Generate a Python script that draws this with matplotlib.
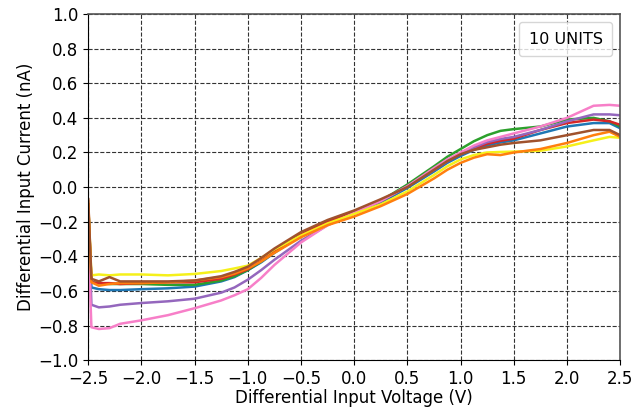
import matplotlib
matplotlib.use("Agg")
import matplotlib.pyplot as plt
from matplotlib.lines import Line2D

# differential input voltage sweep (V)
volts = [-2.5, -2.47, -2.4, -2.3, -2.2, -2.0, -1.75, -1.5, -1.25, -1.125, -1.0, -0.875, -0.75, -0.5,
         -0.25, 0.0, 0.25, 0.5, 0.75, 0.875, 1.0, 1.125, 1.25, 1.375, 1.5, 1.75, 2.0, 2.25, 2.4, 2.5]

# differential input current per unit (nA)
unit_blue = [-0.12, -0.58, -0.59, -0.595, -0.595, -0.59, -0.585, -0.575, -0.545, -0.52, -0.48, -0.435,
             -0.38, -0.28, -0.21, -0.15, -0.09, -0.005, 0.09, 0.14, 0.18, 0.215, 0.24, 0.258, 0.27,
             0.31, 0.35, 0.37, 0.37, 0.34]
unit_orange = [-0.08, -0.55, -0.57, -0.56, -0.555, -0.555, -0.55, -0.54, -0.52, -0.5, -0.47, -0.43,
               -0.38, -0.29, -0.22, -0.17, -0.11, -0.04, 0.05, 0.1, 0.14, 0.17, 0.19, 0.185, 0.2,
               0.22, 0.255, 0.30, 0.32, 0.29]
unit_green = [-0.1, -0.55, -0.555, -0.56, -0.56, -0.56, -0.565, -0.565, -0.54, -0.515, -0.48, -0.43,
              -0.375, -0.275, -0.2, -0.15, -0.08, 0.015, 0.12, 0.175, 0.22, 0.265, 0.3, 0.325, 0.335,
              0.35, 0.39, 0.40, 0.38, 0.35]
unit_red = [-0.1, -0.55, -0.555, -0.555, -0.56, -0.555, -0.55, -0.55, -0.53, -0.505, -0.475, -0.425,
            -0.37, -0.275, -0.2, -0.145, -0.08, 0.005, 0.1, 0.15, 0.19, 0.225, 0.25, 0.268, 0.28,
            0.33, 0.37, 0.39, 0.38, 0.36]
unit_purple = [-0.15, -0.68, -0.695, -0.69, -0.68, -0.67, -0.66, -0.645, -0.61, -0.58, -0.535, -0.48,
               -0.42, -0.31, -0.22, -0.15, -0.08, 0.005, 0.1, 0.15, 0.195, 0.23, 0.26, 0.278, 0.29,
               0.33, 0.38, 0.42, 0.42, 0.415]
unit_brown = [-0.07, -0.53, -0.545, -0.52, -0.545, -0.545, -0.545, -0.54, -0.515, -0.49, -0.46, -0.41,
              -0.355, -0.26, -0.19, -0.135, -0.07, 0.0, 0.1, 0.15, 0.19, 0.215, 0.23, 0.245, 0.255,
              0.27, 0.30, 0.33, 0.33, 0.30]
unit_pink = [-0.3, -0.81, -0.82, -0.815, -0.79, -0.77, -0.74, -0.70, -0.655, -0.625, -0.59, -0.525,
             -0.45, -0.32, -0.22, -0.15, -0.08, 0.005, 0.11, 0.16, 0.2, 0.24, 0.27, 0.29, 0.31,
             0.35, 0.40, 0.47, 0.475, 0.47]
unit_yellow = [-0.1, -0.51, -0.505, -0.51, -0.505, -0.505, -0.51, -0.502, -0.485, -0.47, -0.454, -0.41,
               -0.36, -0.28, -0.21, -0.155, -0.1, -0.025, 0.07, 0.12, 0.16, 0.185, 0.2, 0.203, 0.205,
               0.21, 0.235, 0.27, 0.29, 0.285]

series = [
    (unit_blue, "#1f77b4"),
    (unit_green, "#2ca02c"),
    (unit_red, "#d62728"),
    (unit_purple, "#9467bd"),
    (unit_pink, "#f77fc8"),
    (unit_yellow, "#f5f01a"),
    (unit_orange, "#ff7f0e"),
    (unit_brown, "#a0522d"),
]

fig = plt.figure(figsize=(6.44, 4.13), dpi=100)
ax = fig.add_axes([0.137, 0.128, 0.826, 0.838])

for vals, col in series:
    ax.plot(volts, vals, color=col, lw=1.8)

ax.set_xlim(-2.5, 2.5)
ax.set_ylim(-1.0, 1.0)
ax.set_xticks([-2.5, -2.0, -1.5, -1.0, -0.5, 0.0, 0.5, 1.0, 1.5, 2.0, 2.5])
ax.set_yticks([-1.0, -0.8, -0.6, -0.4, -0.2, 0.0, 0.2, 0.4, 0.6, 0.8, 1.0])
ax.grid(True, ls="--", color="#333333", lw=0.8)
ax.tick_params(labelsize=12, color="black")

for side in ("left", "bottom"):
    ax.spines[side].set_color("black")
for side in ("top", "right"):
    ax.spines[side].set_color("#555555")
    ax.spines[side].set_linewidth(1.2)

ax.set_xlabel("Differential Input Voltage (V)", fontsize=12, labelpad=1)
ax.set_ylabel("Differential Input Current (nA)", fontsize=12, labelpad=2)

ax.legend([Line2D([], [], alpha=0)], ["10 UNITS"], loc="upper right",
          handlelength=0, handletextpad=0, fontsize=11.5, borderpad=0.6)

fig.savefig("out.png", dpi=100)
